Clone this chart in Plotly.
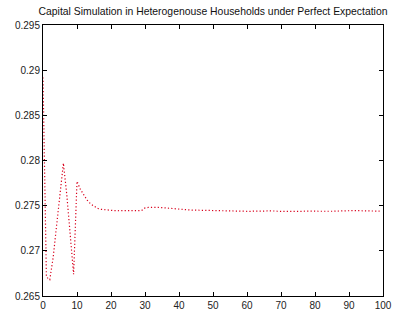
import plotly.graph_objects as go

title_text = "Capital Simulation in Heterogenouse Households under Perfect Expectation"

periods = list(range(100))
capital = [
    0.2892, 0.2671, 0.2668, 0.2693, 0.2728, 0.2762, 0.2797, 0.2762, 0.2718, 0.2674,
    0.2777, 0.2768, 0.2762, 0.2756, 0.2752, 0.2749, 0.2747, 0.2746, 0.27455, 0.2745,
    0.27447, 0.27445, 0.27444, 0.27443, 0.27444, 0.27445, 0.27444, 0.27443, 0.27445, 0.27446,
    0.27475, 0.2748, 0.27482, 0.27481, 0.2748, 0.27478, 0.27474, 0.27471, 0.27468, 0.27466,
    0.27463, 0.27458, 0.27455, 0.27453, 0.27451, 0.2745, 0.27448, 0.27446, 0.27444, 0.27443,
    0.27444, 0.27442, 0.27441, 0.27443, 0.27442, 0.2744, 0.27441, 0.27443, 0.27441, 0.27439,
    0.27436, 0.27437, 0.2744, 0.27438, 0.27436, 0.27439, 0.27442, 0.27445, 0.27441, 0.27438,
    0.27437, 0.27438, 0.27436, 0.27437, 0.27439, 0.27438, 0.27437, 0.27439, 0.27441, 0.27443,
    0.2744, 0.27438, 0.27436, 0.27437, 0.27435, 0.27438, 0.2744, 0.27439, 0.27442, 0.27443,
    0.27444, 0.27446, 0.27445, 0.27443, 0.27441, 0.27439, 0.27436, 0.27438, 0.27441, 0.27439,
]

x_ticks = list(range(0, 101, 10))
y_ticks = [0.265, 0.27, 0.275, 0.28, 0.285, 0.29, 0.295]

fig = go.Figure()
fig.add_trace(go.Scatter(
    x=periods, y=capital, mode="lines",
    line=dict(color="#d8001c", width=1.2, dash="1.2px,2.2px"),
    showlegend=False,
))

axis_common = dict(
    showgrid=False, zeroline=False, showline=True, linecolor="#000000", linewidth=1,
    mirror="ticks", ticks="inside", ticklen=4, tickcolor="#000000",
    tickfont=dict(family="Arial, Liberation Sans, sans-serif", size=10, color="#222222"),
)

fig.update_layout(
    width=401, height=320,
    margin=dict(l=43, r=9, t=25, b=21),
    paper_bgcolor="white", plot_bgcolor="white",
    title=dict(text=title_text, xref="paper", x=0.5, xanchor="center", y=0.975, yanchor="top",
               font=dict(family="Arial, Liberation Sans, sans-serif", size=10.4, color="#111111")),
    xaxis=dict(range=[0, 100], tickvals=x_ticks, ticktext=[str(v) for v in x_ticks], **axis_common),
    yaxis=dict(range=[0.265, 0.295], tickvals=y_ticks, ticktext=[f"{v:g}" for v in y_ticks], **axis_common),
)

fig.write_html("out.html")
